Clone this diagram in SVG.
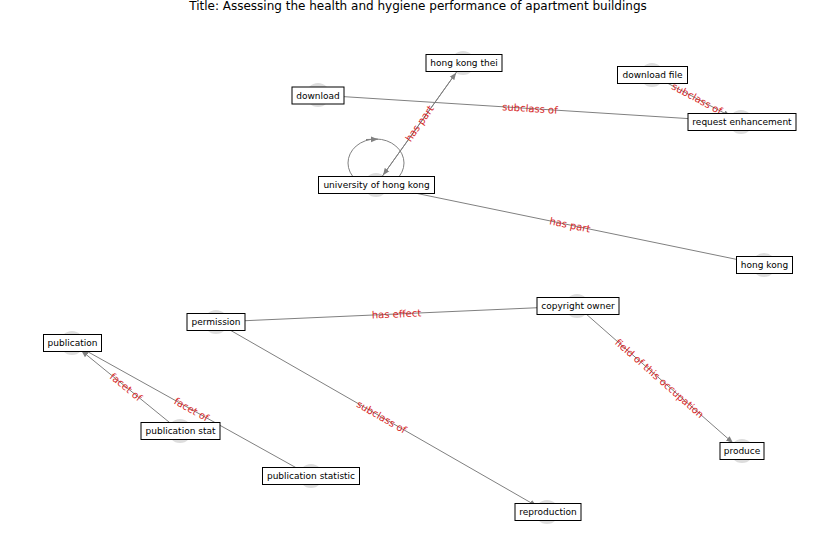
<svg xmlns="http://www.w3.org/2000/svg" width="837" height="559" viewBox="0 0 837 559">
<style>
.edge{stroke:#808080;stroke-width:1;fill:none}
.el{font-family:"DejaVu Sans",sans-serif;font-size:10px;fill:#d62728;text-anchor:middle;dominant-baseline:central}
.nc{fill:#dddddd}
.nb{fill:#ffffff;stroke:#000000;stroke-width:1}
.nt{font-family:"DejaVu Sans",sans-serif;font-size:9px;fill:#000000;text-anchor:middle;dominant-baseline:central}
.title{font-family:"DejaVu Sans",sans-serif;font-size:12px;fill:#000000;text-anchor:middle}
</style>
<defs>
<marker id="arr" viewBox="0 0 10 10" refX="10" refY="5" markerWidth="7" markerHeight="7" markerUnits="userSpaceOnUse" orient="auto">
<path d="M0,1 L10,5 L0,9 Z" fill="#808080"/>
</marker>
</defs>
<rect width="837" height="559" fill="#ffffff"/>
<text class="title" x="418" y="10">Title: Assessing the health and hygiene performance of apartment buildings</text>
<g id="circles">
<circle class="nc" cx="463" cy="63" r="12"/>
<circle class="nc" cx="318" cy="95" r="12"/>
<circle class="nc" cx="652" cy="75" r="12"/>
<circle class="nc" cx="741" cy="122" r="12"/>
<circle class="nc" cx="376" cy="185" r="12"/>
<circle class="nc" cx="764" cy="265" r="12"/>
<circle class="nc" cx="577" cy="306" r="12"/>
<circle class="nc" cx="216" cy="322" r="12"/>
<circle class="nc" cx="72" cy="343" r="12"/>
<circle class="nc" cx="180" cy="431" r="12"/>
<circle class="nc" cx="311" cy="476" r="12"/>
<circle class="nc" cx="742" cy="451" r="12"/>
<circle class="nc" cx="547" cy="512" r="12"/>
</g>
<g id="connectors">
<line class="edge" x1="318" y1="95" x2="729" y2="121.2" marker-end="url(#arr)"/>
<line class="edge" x1="652" y1="75" x2="730.4" y2="116.3" marker-end="url(#arr)"/>
<line class="edge" x1="376" y1="185" x2="456.1" y2="72.8" marker-end="url(#arr)"/>
<line class="edge" x1="463" y1="63" x2="383" y2="175.2" marker-end="url(#arr)"/>
<ellipse class="edge" cx="376" cy="163" rx="28" ry="24"/>
<path class="edge" d="M366,139.5 L378,139.2" marker-end="url(#arr)"/>
<line class="edge" x1="376" y1="185" x2="752.2" y2="262.6" marker-end="url(#arr)"/>
<line class="edge" x1="216" y1="322" x2="565" y2="306.5" marker-end="url(#arr)"/>
<line class="edge" x1="577" y1="306" x2="733" y2="443" marker-end="url(#arr)"/>
<line class="edge" x1="216" y1="322" x2="536.6" y2="506" marker-end="url(#arr)"/>
<line class="edge" x1="180" y1="431" x2="81.3" y2="350.6" marker-end="url(#arr)"/>
<line class="edge" x1="311" y1="476" x2="82.5" y2="348.8" marker-end="url(#arr)"/>
</g>
<g id="edge-labels">
<text class="el" transform="translate(530,108.5) rotate(3.7)">subclass of</text>
<text class="el" transform="translate(697,98.5) rotate(28.1)">subclass of</text>
<text class="el" transform="translate(419.5,123.5) rotate(-54.7)">has part</text>
<text class="el" transform="translate(570,225) rotate(11.65)">has part</text>
<text class="el" transform="translate(396.5,314) rotate(-2.5)">has effect</text>
<text class="el" transform="translate(659.5,378.5) rotate(41.3)">field of this occupation</text>
<text class="el" transform="translate(381.5,417) rotate(29.9)">subclass of</text>
<text class="el" transform="translate(126,387) rotate(39.2)">facet of</text>
<text class="el" transform="translate(191.5,409.5) rotate(29.1)">facet of</text>
</g>
<g id="n-hong-kong-thei"><rect class="nb" x="426" y="54.5" width="76" height="17"/><text class="nt" x="464" y="63">hong kong thei</text></g>
<g id="n-download"><rect class="nb" x="292" y="87" width="52" height="17"/><text class="nt" x="318" y="95.5">download</text></g>
<g id="n-download-file"><rect class="nb" x="617.5" y="66.5" width="70" height="17"/><text class="nt" x="652.5" y="75">download file</text></g>
<g id="n-request-enhancement"><rect class="nb" x="688" y="113.5" width="108" height="17"/><text class="nt" x="742" y="122">request enhancement</text></g>
<g id="n-university-of-hong-kong"><rect class="nb" x="318.5" y="176.5" width="116" height="17"/><text class="nt" x="376.5" y="185">university of hong kong</text></g>
<g id="n-hong-kong"><rect class="nb" x="736.5" y="256.5" width="56" height="17"/><text class="nt" x="764.5" y="265">hong kong</text></g>
<g id="n-copyright-owner"><rect class="nb" x="537" y="297.5" width="82" height="17"/><text class="nt" x="578" y="306">copyright owner</text></g>
<g id="n-permission"><rect class="nb" x="187" y="313.5" width="58" height="17"/><text class="nt" x="216" y="322">permission</text></g>
<g id="n-publication"><rect class="nb" x="43.5" y="334.5" width="58" height="17"/><text class="nt" x="72.5" y="343">publication</text></g>
<g id="n-publication-stat"><rect class="nb" x="141" y="422.5" width="79" height="17"/><text class="nt" x="180.5" y="431">publication stat</text></g>
<g id="n-publication-statistic"><rect class="nb" x="262.5" y="467.5" width="97" height="17"/><text class="nt" x="311" y="476">publication statistic</text></g>
<g id="n-produce"><rect class="nb" x="720" y="442.5" width="44" height="17"/><text class="nt" x="742" y="451">produce</text></g>
<g id="n-reproduction"><rect class="nb" x="515" y="503.5" width="66" height="17"/><text class="nt" x="548" y="512">reproduction</text></g>
</svg>
